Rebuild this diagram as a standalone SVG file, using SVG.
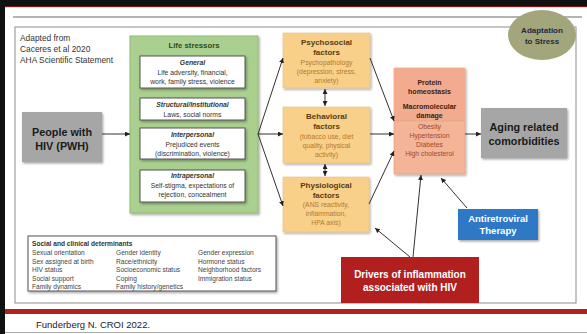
<svg xmlns="http://www.w3.org/2000/svg" width="587" height="334" viewBox="0 0 587 334">
<defs>
<style>
text{font-family:"Liberation Sans",Arial,sans-serif;}
.c{text-anchor:middle;}
.b{font-weight:bold;}
.con{stroke:#333;stroke-width:1;fill:none;marker-end:url(#ah);}
.dbl{marker-start:url(#ahs);}
.wb{fill:#fff;stroke:#555;stroke-width:1;filter:url(#sh);}
.fac{fill:#f8d08a;stroke:#e8bd72;stroke-width:0.5;filter:url(#sh);}
.ft{fill:#5a3a12;font-size:8px;font-weight:bold;}
.fb{fill:#b57a2c;font-size:6.8px;}
.wt{fill:#333;font-size:6.8px;}
.wh{fill:#333;font-size:6.8px;font-weight:bold;font-style:italic;}
.sd{fill:#444;font-size:6.6px;}
</style>
<filter id="sh" x="-10%" y="-10%" width="130%" height="130%">
<feDropShadow dx="1.2" dy="1.5" stdDeviation="0.9" flood-color="#000" flood-opacity="0.35"/>
</filter>
<marker id="ah" markerUnits="userSpaceOnUse" markerWidth="5" markerHeight="5" refX="5" refY="2.5" orient="auto">
<path d="M0,0 L5,2.5 L0,5 z" fill="#222"/>
</marker>
<marker id="ahs" markerUnits="userSpaceOnUse" markerWidth="5" markerHeight="5" refX="0" refY="2.5" orient="auto">
<path d="M5,0 L0,2.5 L5,5 z" fill="#222"/>
</marker>
</defs>

<!-- slide frame -->
<rect x="0" y="0" width="587" height="334" fill="#fff"/>
<rect x="0" y="0" width="587" height="6" fill="#111"/>
<rect x="0" y="6" width="587" height="1.2" fill="#7a1a1a"/>
<rect x="0" y="0" width="5" height="334" fill="#111"/>
<line x1="13" y1="17" x2="582" y2="17" stroke="#b4b4b4" stroke-width="2"/>
<rect x="15" y="27" width="561" height="276" fill="#fff" stroke="#a0a0a0" stroke-width="1.2"/>
<rect x="5" y="309" width="582" height="5" fill="#b3211e"/>
<line x1="5" y1="332.5" x2="587" y2="332.5" stroke="#aaa" stroke-width="1"/>
<text x="36" y="328" font-size="9.5" fill="#222">Funderberg N. CROI 2022.</text>

<g id="source">
<text x="20" y="41" font-size="8.4" fill="#333">Adapted from</text>
<text x="20" y="52" font-size="8.4" fill="#333">Caceres et al 2020</text>
<text x="20" y="63" font-size="8.4" fill="#333">AHA Scientific Statement</text>
</g>

<g id="adaptation">
<ellipse cx="542" cy="35" rx="34" ry="25" fill="#a3a57b"/>
<text x="542" y="33" class="c b" font-size="8" fill="#1f2a44">Adaptation</text>
<text x="542" y="44" class="c b" font-size="8" fill="#1f2a44">to Stress</text>
</g>

<g id="pwh">
<rect x="22" y="112" width="80" height="50" fill="#a6a6a6" filter="url(#sh)"/>
<text x="62" y="136" class="c b" font-size="10.8" fill="#1a1a1a">People with</text>
<text x="62" y="150" class="c b" font-size="10.8" fill="#1a1a1a">HIV (PWH)</text>
</g>

<g id="life-stressors">
<rect x="130" y="36" width="128" height="177" fill="#a9d08e" stroke="#92b978" stroke-width="1" filter="url(#sh)"/>
<text x="194" y="48" class="c b" font-size="7.8" fill="#2e4a1e">Life stressors</text>
<rect x="140" y="56" width="105" height="32" class="wb"/>
<text x="192.5" y="65" class="c wh">General</text>
<text x="192.5" y="75" class="c wt">Life adversity, financial,</text>
<text x="192.5" y="84" class="c wt">work, family stress, violence</text>
<rect x="140" y="98" width="105" height="22" class="wb"/>
<text x="192.5" y="107" class="c wh">Structural/Institutional</text>
<text x="192.5" y="117" class="c wt">Laws, social norms</text>
<rect x="140" y="128" width="105" height="31" class="wb"/>
<text x="192.5" y="137" class="c wh">Interpersonal</text>
<text x="192.5" y="147" class="c wt">Prejudiced events</text>
<text x="192.5" y="156" class="c wt">(discrimination, violence)</text>
<rect x="140" y="170" width="105" height="32" class="wb"/>
<text x="192.5" y="178" class="c wh">Intrapersonal</text>
<text x="192.5" y="188" class="c wt">Self-stigma, expectations of</text>
<text x="192.5" y="197" class="c wt">rejection, concealment</text>
</g>

<g id="psychosocial">
<rect x="283" y="33" width="87" height="55" class="fac"/>
<text x="326.5" y="45" class="c ft">Psychosocial</text>
<text x="326.5" y="55" class="c ft">factors</text>
<text x="326.5" y="65" class="c fb">Psychopathology</text>
<text x="326.5" y="74" class="c fb">(depression, stress,</text>
<text x="326.5" y="83" class="c fb">anxiety)</text>
</g>

<g id="behavioral">
<rect x="283" y="107" width="87" height="56" class="fac"/>
<text x="326.5" y="119" class="c ft">Behavioral</text>
<text x="326.5" y="129" class="c ft">factors</text>
<text x="326.5" y="139" class="c fb">(tobacco use, diet</text>
<text x="326.5" y="148" class="c fb">quality, physical</text>
<text x="326.5" y="157" class="c fb">activity)</text>
</g>

<g id="physiological">
<rect x="283" y="177" width="86" height="55" class="fac"/>
<text x="326" y="188" class="c ft">Physiological</text>
<text x="326" y="198" class="c ft">factors</text>
<text x="326" y="207" class="c fb">(ANS reactivity,</text>
<text x="326" y="216" class="c fb">inflammation,</text>
<text x="326" y="225" class="c fb">HPA axis)</text>
</g>

<g id="protein">
<rect x="394" y="68" width="71" height="106" fill="#f4b497" stroke="#e59d7e" stroke-width="0.6" filter="url(#sh)"/>
<rect x="394" y="68" width="71" height="53" fill="#f2ab8e"/>
<line x1="394" y1="121" x2="465" y2="121" stroke="#e3a184" stroke-width="0.6"/>
<text x="429.5" y="85" class="c b" font-size="7" fill="#3a1e10">Protein</text>
<text x="429.5" y="94" class="c b" font-size="7" fill="#3a1e10">homeostasis</text>
<text x="429.5" y="109" class="c b" font-size="7" fill="#3a1e10">Macromolecular</text>
<text x="429.5" y="118" class="c b" font-size="7" fill="#3a1e10">damage</text>
<text x="429.5" y="129" class="c" font-size="6.8" fill="#9e4a2c">Obesity</text>
<text x="429.5" y="138" class="c" font-size="6.8" fill="#9e4a2c">Hypertension</text>
<text x="429.5" y="147" class="c" font-size="6.8" fill="#9e4a2c">Diabetes</text>
<text x="429.5" y="156" class="c" font-size="6.8" fill="#9e4a2c">High cholesterol</text>
</g>

<g id="aging">
<rect x="481" y="108" width="86" height="50" fill="#a6a6a6" filter="url(#sh)"/>
<text x="524" y="131" class="c b" font-size="10.8" fill="#1a1a1a">Aging related</text>
<text x="524" y="145" class="c b" font-size="10.8" fill="#1a1a1a">comorbidities</text>
</g>

<g id="art">
<rect x="458" y="209" width="80" height="31" fill="#2f78c6" filter="url(#sh)"/>
<text x="498" y="222" class="c b" font-size="9.5" fill="#fff">Antiretroviral</text>
<text x="498" y="234" class="c b" font-size="9.5" fill="#fff">Therapy</text>
</g>

<g id="drivers">
<rect x="341" y="257" width="138" height="46" fill="#b11f1f"/>
<text x="410" y="278" class="c b" font-size="10" fill="#fff">Drivers of inflammation</text>
<text x="410" y="291" class="c b" font-size="10" fill="#fff">associated with HIV</text>
</g>

<g id="social-determinants">
<rect x="28" y="236" width="248" height="55" fill="#fff" stroke="#555" stroke-width="1" filter="url(#sh)"/>
<text x="32" y="246" class="b" font-size="6.6" fill="#333">Social and clinical determinants</text>
<text x="32" y="255" class="sd">Sexual orientation</text>
<text x="32" y="263.5" class="sd">Sex assigned at birth</text>
<text x="32" y="272" class="sd">HIV status</text>
<text x="32" y="280.5" class="sd">Social support</text>
<text x="32" y="289" class="sd">Family dynamics</text>
<text x="116" y="255" class="sd">Gender identity</text>
<text x="116" y="263.5" class="sd">Race/ethnicity</text>
<text x="116" y="272" class="sd">Socioeconomic status</text>
<text x="116" y="280.5" class="sd">Coping</text>
<text x="116" y="289" class="sd">Family history/genetics</text>
<text x="198" y="255" class="sd">Gender expression</text>
<text x="198" y="263.5" class="sd">Hormone status</text>
<text x="198" y="272" class="sd">Neighborhood factors</text>
<text x="198" y="280.5" class="sd">Immigration status</text>
</g>

<g id="connectors">
<line x1="102" y1="134" x2="130" y2="134" class="con"/>
<line x1="258" y1="134" x2="283" y2="58" class="con"/>
<line x1="258" y1="134" x2="283" y2="134" class="con"/>
<line x1="258" y1="134" x2="283" y2="206" class="con"/>
<line x1="325" y1="89" x2="325" y2="106" class="con dbl"/>
<line x1="325" y1="164" x2="325" y2="176" class="con dbl"/>
<line x1="370" y1="58" x2="394" y2="121" class="con"/>
<line x1="370" y1="134" x2="394" y2="134" class="con"/>
<line x1="369" y1="204" x2="394" y2="151" class="con"/>
<line x1="465" y1="134" x2="481" y2="134" class="con"/>
<line x1="467" y1="208" x2="441" y2="178" class="con"/>
<line x1="413" y1="257" x2="421" y2="175" class="con"/>
<line x1="410" y1="257" x2="375" y2="228" class="con"/>
</g>
</svg>
